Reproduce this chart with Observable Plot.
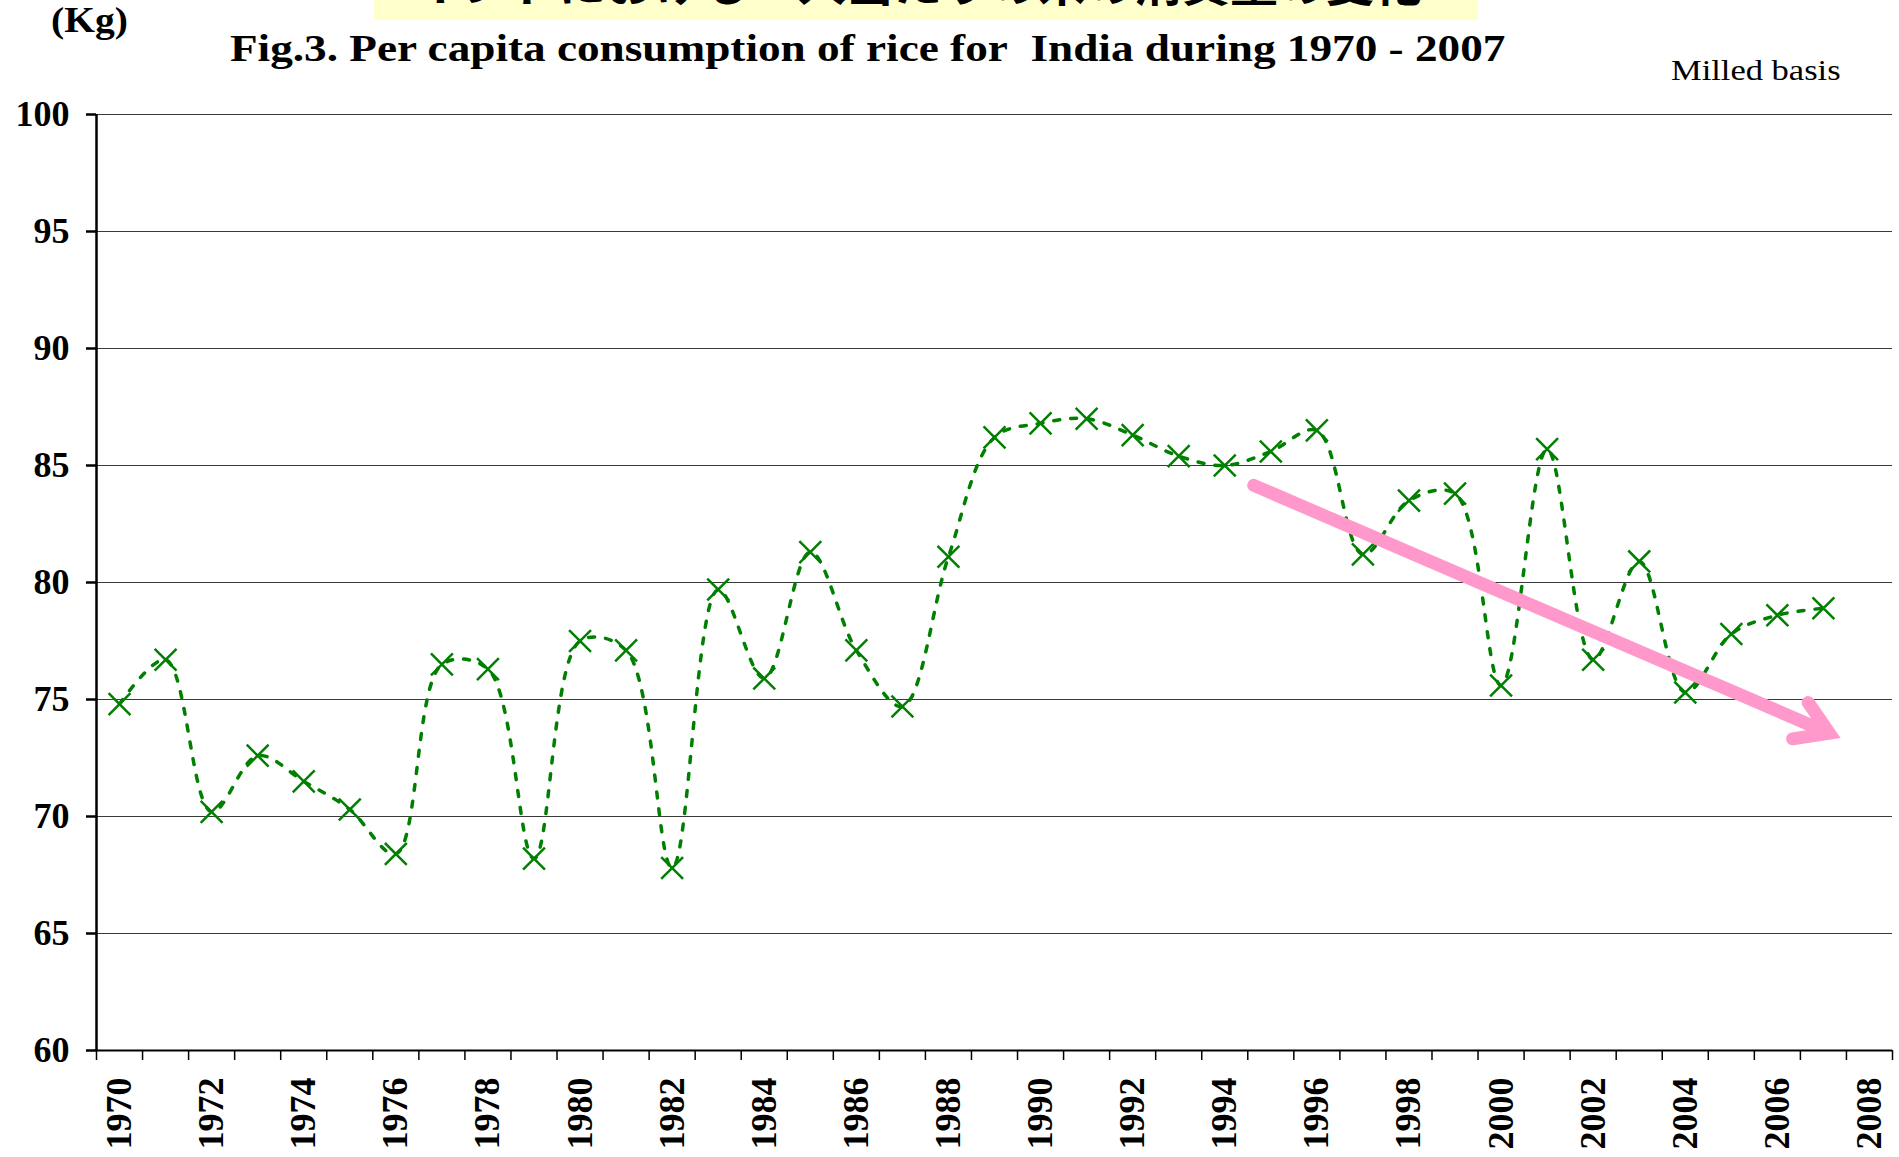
<!DOCTYPE html>
<html><head><meta charset="utf-8">
<script src="https://cdn.jsdelivr.net/npm/d3@7"></script>
<script src="https://cdn.jsdelivr.net/npm/@observablehq/plot@0.6"></script>
<style>
html,body{margin:0;padding:0;background:#fff;width:1899px;height:1157px;overflow:hidden}
#wrap{position:relative;width:1899px;height:1157px;background:#fff}
#chart{position:absolute;left:0;top:0}
.t{position:absolute;white-space:nowrap;font-family:'Liberation Serif','Times New Roman',serif;line-height:1;transform-origin:0 0;color:#000}
#jpbox{position:absolute;left:374px;top:0;width:1104px;height:20px;background:#ffffcc;overflow:hidden}
#jpbox span{position:absolute;left:40px;top:-44px;font-family:'Noto Sans CJK JP',sans-serif;font-weight:bold;font-size:48px;line-height:1;white-space:nowrap;color:#000}
</style></head><body>
<div id="wrap">
  <div id="chart"></div>
  <div id="jpbox"><span>インドにおける一人当たりの米の消費量の変化</span></div>
  <div class="t" id="kg" style="left:51px;top:3px;font-size:35px;font-weight:bold;transform:scaleX(1.13)">(Kg)</div>
  <div class="t" id="title" style="left:230px;top:29px;font-size:38px;font-weight:bold;transform:scaleX(1.19)">Fig.3. Per capita consumption of rice for&nbsp; India during 1970 - 2007</div>
  <div class="t" id="basis" style="left:1671px;top:55px;font-size:30px;transform:scaleX(1.15)">Milled basis</div>
</div>
<script>
// Data
const years = [1970,1971,1972,1973,1974,1975,1976,1977,1978,1979,
               1980,1981,1982,1983,1984,1985,1986,1987,1988,1989,
               1990,1991,1992,1993,1994,1995,1996,1997,1998,1999,
               2000,2001,2002,2003,2004,2005,2006,2007];
const perCapitaKg = [74.8,76.7,70.2,72.6,71.5,70.3,68.4,76.5,76.3,68.2,
                     77.5,77.1,67.8,79.7,75.9,81.3,77.1,74.7,81.1,86.2,
                     86.8,87.0,86.3,85.4,85.0,85.6,86.5,81.2,83.5,83.8,
                     75.6,85.7,76.7,80.9,75.3,77.8,78.6,78.9];
const yTicks = [60,65,70,75,80,85,90,95,100];
const xTickLabels = [1970,1972,1974,1976,1978,1980,1982,1984,1986,1988,
                     1990,1992,1994,1996,1998,2000,2002,2004,2006,2008];
const categoryYears = [...years, 2008];
// trend arrow annotation (year, kg)
const arrowStart = [1994.63, 84.15];
const arrowEnd = [2007.13, 73.56];

const data = years.map((y, i) => ({year: y, value: perCapitaKg[i]}));
const boundaries = [...categoryYears.map(y => y - 0.5), categoryYears[categoryYears.length - 1] + 0.5];
const gridVals = yTicks.filter(v => v > yTicks[0]);
const arrowData = [{x1: arrowStart[0], y1: arrowStart[1], x2: arrowEnd[0], y2: arrowEnd[1]}];

const font = "'Liberation Serif','Times New Roman',serif";
const chart = Plot.plot({
  width: 1899,
  height: 1157,
  marginLeft: 96,
  marginRight: 7,
  marginTop: 114,
  marginBottom: 107,
  style: {fontFamily: font, background: "transparent", color: "#000", overflow: "visible"},
  x: {domain: [boundaries[0], boundaries[boundaries.length - 1]], label: null},
  y: {domain: [yTicks[0], yTicks[yTicks.length - 1]], label: null},
  marks: [
    Plot.gridY({ticks: gridVals, stroke: "#3a3a3a", strokeOpacity: 1, strokeWidth: 1}),
    Plot.axisY({ticks: yTicks, tickSize: 10, tickPadding: 17, strokeWidth: 2.5,
                fontSize: 36, fontWeight: "bold", fontFamily: font, tickFormat: d => String(d), label: null}),
    Plot.axisX({ticks: boundaries, tickSize: 10, strokeWidth: 1.5, fill: "none", label: null}),
    Plot.axisX({ticks: xTickLabels, tickSize: 0, tickRotate: -90, tickPadding: 27,
                fontSize: 36, fontWeight: "bold", fontFamily: font, tickFormat: d => String(d), label: null}),
    Plot.ruleX([boundaries[0]], {strokeWidth: 2.5}),
    Plot.ruleY([yTicks[0]], {strokeWidth: 2.2}),
    Plot.line(data, {x: "year", y: "value", stroke: "#008000", strokeWidth: 3.5,
                     strokeDasharray: "6,11", curve: "catmull-rom"}),
    Plot.dot(data, {x: "year", y: "value", symbol: "times", r: 10, stroke: "#008000", strokeWidth: 2.5}),
    Plot.arrow(arrowData, {x1: "x1", y1: "y1", x2: "x2", y2: "y2", stroke: "#ff99cc",
                           strokeWidth: 13, headLength: 4.3, headAngle: 64,
                           strokeLinecap: "round", strokeLinejoin: "miter", strokeMiterlimit: 10})
  ]
});
document.getElementById("chart").appendChild(chart);
</script>
</body></html>
